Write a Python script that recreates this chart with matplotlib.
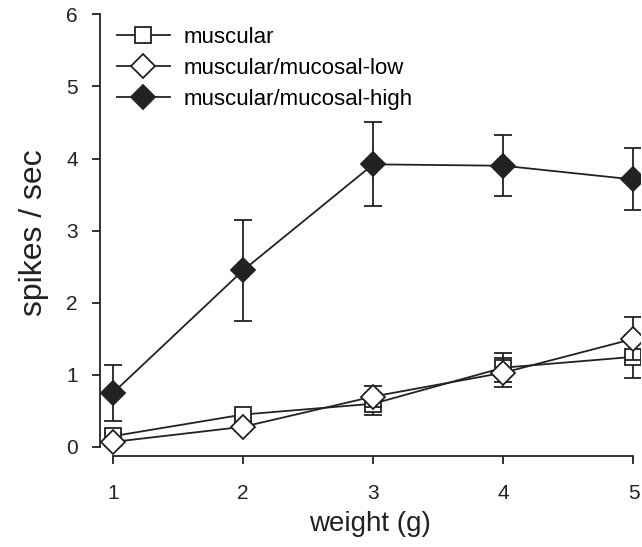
import matplotlib
matplotlib.use("Agg")
import matplotlib.pyplot as plt
from matplotlib.lines import Line2D

plt.rcParams['font.family'] = ['Liberation Sans', 'DejaVu Sans']

weight = [1, 2, 3, 4, 5]

muscular = [0.15, 0.45, 0.6, 1.1, 1.25]
muscular_err = [0.05, 0.05, 0.15, 0.2, 0.3]

low = [0.07, 0.28, 0.7, 1.03, 1.5]
low_err = [0.05, 0.06, 0.15, 0.2, 0.3]

high = [0.75, 2.45, 3.92, 3.9, 3.71]
high_err = [0.39, 0.7, 0.58, 0.42, 0.43]

ink = '#222222'

fig = plt.figure(figsize=(6.42, 5.47), dpi=100)
ax = fig.add_axes([100/642, 91/547, 540/642, 446/547])

common = dict(color=ink, lw=1.3, capsize=6.5, elinewidth=1.3, capthick=1.3,
              markeredgecolor=ink, markeredgewidth=1.3)

ax.errorbar(weight, high, yerr=high_err, marker='D', ms=12, mfc=ink, zorder=3, **common)
ax.errorbar(weight, muscular, yerr=muscular_err, marker='s', ms=12, mfc='white',
            zorder=4, **common)
ax.errorbar(weight, low, yerr=low_err, marker='D', ms=12, mfc='white', zorder=5, **common)

ax.set_xlim(0.9, 5.05)
ax.set_ylim(-0.125, 6.06)

for s in ['top', 'right']:
    ax.spines[s].set_visible(False)
ax.spines['left'].set_bounds(0, 6)
ax.spines['bottom'].set_bounds(1, 5)
for s in ['left', 'bottom']:
    ax.spines[s].set_color(ink)
    ax.spines[s].set_linewidth(1.3)

ax.set_xticks(weight)
ax.set_yticks([0, 1, 2, 3, 4, 5, 6])
ax.tick_params(direction='out', length=6, width=1.3, color=ink,
               labelsize=15, labelcolor=ink)
ax.tick_params(axis='x', pad=14)
ax.tick_params(axis='y', pad=10)

ax.set_xlabel('weight (g)', fontsize=20, color=ink, labelpad=6)
ax.set_ylabel('spikes / sec', fontsize=23, color=ink, labelpad=12)

handles = [
    Line2D([], [], color=ink, lw=1.3, marker='s', ms=12, mfc='white', mec=ink, mew=1.3),
    Line2D([], [], color=ink, lw=1.3, marker='D', ms=12, mfc='white', mec=ink, mew=1.3),
    Line2D([], [], color=ink, lw=1.3, marker='D', ms=12, mfc=ink, mec=ink, mew=1.3),
]
labels = ['muscular', 'muscular/mucosal-low', 'muscular/mucosal-high']
ax.legend(handles, labels, loc='upper left', bbox_to_anchor=(0.031, 0.962),
          frameon=False, fontsize=16, handlelength=2.4, handletextpad=0.6,
          labelspacing=0.45, borderaxespad=0, borderpad=0)

fig.savefig('out.png', dpi=100)
